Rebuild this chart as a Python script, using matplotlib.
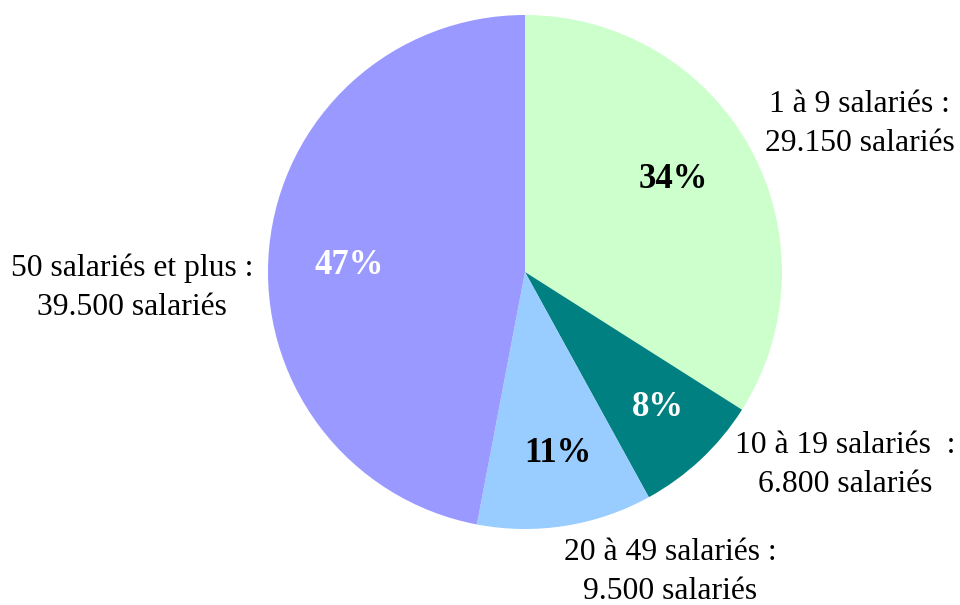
import matplotlib.pyplot as plt

# data
categories = ["1 à 9 salariés :", "10 à 19 salariés  :", "20 à 49 salariés :", "50 salariés et plus :"]
salaries_txt = ["29.150 salariés", "6.800 salariés", "9.500 salariés", "39.500 salariés"]
pct_values = [34, 8, 11, 47]
pct_labels = ["34%", "8%", "11%", "47%"]

colors = ["#CCFFCC", "#008080", "#99CCFF", "#9999FF"]
pct_colors = ["black", "white", "black", "white"]

plt.rcParams["font.family"] = ["Liberation Serif", "DejaVu Serif"]

W, H = 960, 605
cx, cy, r = 525, 272, 257

fig = plt.figure(figsize=(W / 100, H / 100), dpi=100)
ax = fig.add_axes([0, 0, 1, 1])
ax.axis("off")

wedges, _ = ax.pie(pct_values, colors=colors, startangle=90, counterclock=False,
                   radius=1, center=(0, 0))
# pie() resets the limits, so set them afterwards
ax.set_xlim(-cx / r, (W - cx) / r)
ax.set_ylim(-(H - cy) / r, cy / r)
ax.set_aspect("auto")


def to_data(px, py):
    return (px - cx) / r, (cy - py) / r


# percentage labels inside the slices
pct_pos = [(673, 180), (658, 408), (558, 453), (349, 265)]
for lab, col, (px, py) in zip(pct_labels, pct_colors, pct_pos):
    x, y = to_data(px, py)
    ax.text(x, y, lab, ha="center", va="center", fontsize=25,
            fontweight="bold", color=col)

# outer category labels
lab_pos = [(860, 124), (845, 465), (670, 572), (132, 288)]
for cat, txt, (px, py) in zip(categories, salaries_txt, lab_pos):
    x, y = to_data(px, py)
    ax.text(x, y, cat + "\n" + txt, ha="center", va="center", fontsize=22.8,
            linespacing=1.45)

fig.savefig("out.png", dpi=100)
